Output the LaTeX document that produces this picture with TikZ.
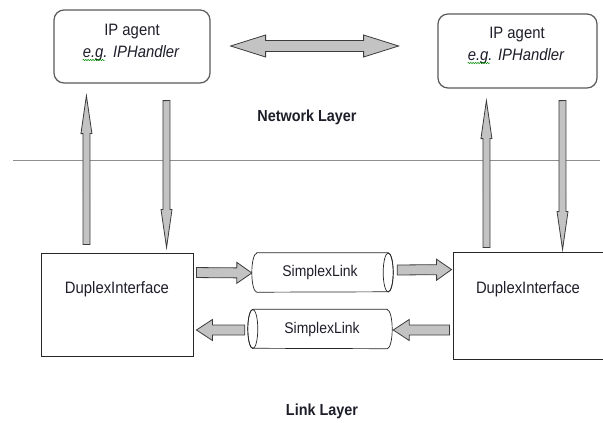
\documentclass[tikz,border=0pt]{standalone}
\usepackage{fontspec}
\setmainfont{Liberation Sans}[FakeStretch=0.9]
\usetikzlibrary{calc,decorations.pathmorphing}
\definecolor{arrfill}{HTML}{C3C3C3}
\definecolor{arrline}{HTML}{3C3C3C}
\definecolor{boxline}{HTML}{5A5A5A}
\definecolor{sepline}{HTML}{8F8F8F}
\definecolor{txt}{HTML}{1E1E2A}
\tikzset{
  agentbox/.style={draw=boxline, line width=1.2pt, rounded corners=10pt, inner sep=0pt},
  ifacebox/.style={draw=black!85, line width=0.9pt, inner sep=0pt},
  pipebox/.style={inner sep=0pt, minimum height=39pt, text=txt, font=\fontsize{15.5}{18}\selectfont},
  pipeline/.style={draw=black!85, line width=0.7pt},
  bodytxt/.style={inner sep=0pt, text=txt, font=\fontsize{16.5}{20}\selectfont},
  layertxt/.style={inner sep=0pt, text=txt, font=\fontsize{16}{19}\selectfont\bfseries},
  fatstyle/.style={draw=arrline, fill=arrfill, line width=0.8pt, line join=miter},
  squiggle/.style={draw=green!55!black, line width=0.5pt, decorate, decoration={snake, amplitude=0.7pt, segment length=2.4pt}}
}
% #1 start, #2 end, #3 half shaft, #4 half head, #5 head length
\newcommand{\FatArrow}[5]{%
  \coordinate (faS) at #1; \coordinate (faE) at #2;
  \coordinate (faB) at ($(faE)!#5!(faS)$);
  \draw[fatstyle] ($(faS)!#3!90:(faE)$) -- ($(faB)!#3!90:(faE)$) -- ($(faB)!#4!90:(faE)$) -- (faE)
    -- ($(faB)!#4!-90:(faE)$) -- ($(faB)!#3!-90:(faE)$) -- ($(faS)!#3!-90:(faE)$) -- cycle;}
\newcommand{\FatDouble}[5]{%
  \coordinate (fdS) at #1; \coordinate (fdE) at #2;
  \coordinate (fdB) at ($(fdS)!#5!(fdE)$);
  \coordinate (fdC) at ($(fdE)!#5!(fdS)$);
  \draw[fatstyle] (fdS) -- ($(fdB)!#4!90:(fdE)$) -- ($(fdB)!#3!90:(fdE)$) -- ($(fdC)!#3!90:(fdE)$)
    -- ($(fdC)!#4!90:(fdE)$) -- (fdE) -- ($(fdC)!#4!-90:(fdE)$) -- ($(fdC)!#3!-90:(fdE)$)
    -- ($(fdB)!#3!-90:(fdE)$) -- ($(fdB)!#4!-90:(fdE)$) -- cycle;}
% cylinder with the full end on the right
\newcommand{\PipeRight}[1]{%
  \draw[pipeline] ($(#1.north west)+(5,0)$) -- ($(#1.north east)+(-5,0)$)
    arc[start angle=90, end angle=-90, x radius=5pt, y radius=19.5pt]
    -- ($(#1.south west)+(5,0)$)
    arc[start angle=270, end angle=90, x radius=5pt, y radius=19.5pt] -- cycle;
  \draw[pipeline] ($(#1.east)+(-5,0)$) ellipse[x radius=5pt, y radius=19.5pt];}
% cylinder with the full end on the left
\newcommand{\PipeLeft}[1]{%
  \draw[pipeline] ($(#1.north east)+(-5,0)$) -- ($(#1.north west)+(5,0)$)
    arc[start angle=90, end angle=270, x radius=5pt, y radius=19.5pt]
    -- ($(#1.south east)+(-5,0)$)
    arc[start angle=-90, end angle=90, x radius=5pt, y radius=19.5pt] -- cycle;
  \draw[pipeline] ($(#1.west)+(5,0)$) ellipse[x radius=5pt, y radius=19.5pt];}
\begin{document}
\begin{tikzpicture}[x=1pt, y=1pt]
\useasboundingbox (0,0) rectangle (603,-423);
\fill[white] (0,0) rectangle (603,-423);

% agent boxes
\node[agentbox, minimum width=156pt, minimum height=73pt] (ipl) at (132,-46.5) {};
\node[agentbox, minimum width=159pt, minimum height=74pt] (ipr) at (517.5,-51) {};
\node[bodytxt, anchor=base] (iplt1) at (132,-35) {IP agent};
\node[bodytxt, anchor=base] (iplt2) at (131,-57) {\itshape e.g. IPHandler};
\node[bodytxt, anchor=base] (iprt1) at (517,-38) {IP agent};
\node[bodytxt, anchor=base] (iprt2) at (516,-60) {\itshape e.g. IPHandler};
\draw[squiggle] ($(iplt2.base west)+(0,-3)$) -- ($(iplt2.base west)+(22,-3)$);
\draw[squiggle] ($(iprt2.base west)+(0,-3)$) -- ($(iprt2.base west)+(22,-3)$);

% layer labels and separator
\node[layertxt] (net) at (307,-117) {Network Layer};
\node[layertxt] (link) at (322,-411) {Link Layer};
\draw[sepline, line width=1pt] (13,-160) -- (600,-160);

% interfaces
\node[ifacebox, minimum width=152pt, minimum height=103pt] (dl) at (117,-304.5) {};
\node[ifacebox, minimum width=153pt, minimum height=107pt] (dr) at (529.5,-305.5) {};
\node[bodytxt] (dlt) at ($(dl.north)+(0,-37)$) {DuplexInterface};
\node[bodytxt] (drt) at ($(dr.north)+(-1.5,-38)$) {DuplexInterface};

% simplex links
\node[pipebox, minimum width=141pt] (p1) at (322.5,-272.5) {};
\node[pipebox, minimum width=144pt] (p2) at (320,-329) {};
\PipeRight{p1}
\PipeLeft{p2}
\node[pipebox] (p1t) at (320,-272) {SimplexLink};
\node[pipebox] (p2t) at (322,-329) {SimplexLink};

% fat arrows
\FatDouble{($(ipl.east)+(20,0.5)$)}{($(ipl.east)+(188,0.5)$)}{5.5pt}{11pt}{35pt}
\FatArrow{($(dl.north west)+(46,8)$)}{($(ipl.south west)+(33,-12)$)}{3.5pt}{5.5pt}{38pt}
\FatArrow{($(ipl.south west)+(113,-17)$)}{($(dl.north west)+(126,5)$)}{3.5pt}{5.5pt}{38pt}
\FatArrow{($(dr.north west)+(34,4)$)}{($(ipr.south west)+(49,-12)$)}{3.5pt}{5.5pt}{38pt}
\FatArrow{($(ipr.south west)+(125,-12)$)}{($(dr.north west)+(110,2)$)}{3.5pt}{5.5pt}{38pt}
\FatArrow{($(dl.north east)+(3,-20)$)}{($(p1.west)+(0,-0.5)$)}{5pt}{10.5pt}{15pt}
\FatArrow{($(p1.east)+(4,2.5)$)}{($(dr.north west)+(-1,-18)$)}{5pt}{10.5pt}{15pt}
\FatArrow{($(dr.west)+(-3,-24.5)$)}{($(p2.east)+(1,-1)$)}{5pt}{10.5pt}{16pt}
\FatArrow{($(p2.west)+(-3,-1)$)}{($(dl.east)+(3,-25.5)$)}{5pt}{10.5pt}{16pt}
\end{tikzpicture}
\end{document}
